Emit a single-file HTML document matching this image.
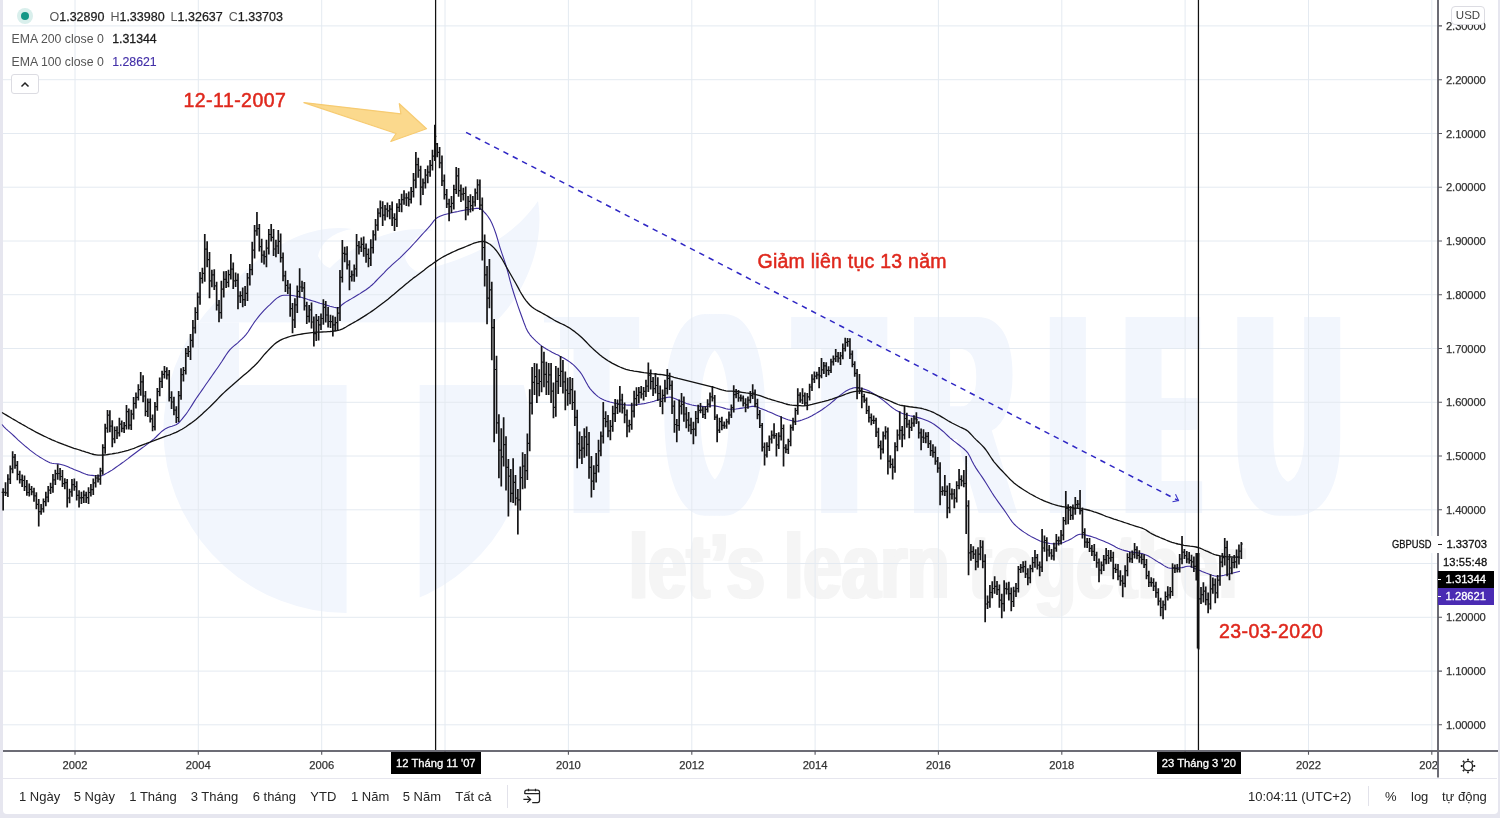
<!DOCTYPE html>
<html lang="vi"><head><meta charset="utf-8"><title>GBPUSD</title>
<style>
html,body{margin:0;padding:0}
body{width:1500px;height:818px;overflow:hidden;background:#e6e6ef;font-family:"Liberation Sans",sans-serif;position:relative;color:#222}
.panel{position:absolute;left:2.5px;top:0;width:1495.3px;height:814.2px;background:#fff;border-radius:0 0 4px 4px}
.chart{position:absolute;left:0;top:0}
.abs{position:absolute;white-space:nowrap}
.wmt{position:absolute;left:0;top:0;width:1500px;height:818px;overflow:hidden;font-weight:700;font-size:285px;line-height:285px;color:#f2f6fd}
.wmt span{position:absolute;top:271.6px;transform-origin:0 0;display:block}
.wml{position:absolute;left:628.5px;top:520.3px;font-weight:700;font-size:92px;line-height:92px;color:#f5f5f5;transform-origin:0 0;transform:scaleX(0.752);white-space:nowrap;text-shadow:2.5px 0 0 #f5f5f5,-2.5px 0 0 #f5f5f5}
.legend{font-size:12.5px;line-height:14px;color:#555}
.legend b{font-weight:400;color:#1c1c1c;-webkit-text-stroke:0.25px #1c1c1c}
.pl{position:absolute;left:1446px;width:45px;font-size:11.2px;line-height:14px;color:#333;letter-spacing:-0.1px;-webkit-text-stroke:0.25px #333}
.tl{position:absolute;top:5.5px;width:40px;text-align:center;font-size:11.2px;line-height:14px;color:#333;-webkit-text-stroke:0.25px #333}
.tb{position:absolute;top:788.6px;font-size:13px;line-height:15px;color:#262626;white-space:nowrap}
.red{position:absolute;color:#df281d;font-weight:400;white-space:nowrap;line-height:1;font-size:19.5px;letter-spacing:0.45px;-webkit-text-stroke:0.5px #df281d}
.dlab{position:absolute;top:751.5px;height:22px;background:#000;color:#fff;font-size:11.2px;line-height:22px;text-align:center;-webkit-text-stroke:0.3px #fff;white-space:nowrap}
.box{position:absolute;left:1437.6px;width:56.6px;height:17px;color:#fff;font-size:11.2px;line-height:17px;-webkit-text-stroke:0.3px #fff}
.box span{position:absolute;left:8px}
</style></head><body>
<div class="panel"></div>
<div class="wmt"><span style="left:550.7px;transform:scaleX(0.4658);text-shadow:9.1px 0 0 #f2f6fd,-9.1px 0 0 #f2f6fd,18.2px 0 0 #f2f6fd,-18.2px 0 0 #f2f6fd">T</span><span style="left:669.3px;transform:scaleX(0.4132);text-shadow:11.6px 0 0 #f2f6fd,-11.6px 0 0 #f2f6fd,23.1px 0 0 #f2f6fd,-23.1px 0 0 #f2f6fd">O</span><span style="left:798.4px;transform:scaleX(0.4737);text-shadow:8.8px 0 0 #f2f6fd,-8.8px 0 0 #f2f6fd,17.6px 0 0 #f2f6fd,-17.6px 0 0 #f2f6fd">T</span><span style="left:912.7px;transform:scaleX(0.4801);text-shadow:8.5px 0 0 #f2f6fd,-8.5px 0 0 #f2f6fd,17.1px 0 0 #f2f6fd,-17.1px 0 0 #f2f6fd">R</span><span style="left:1050.4px;transform:scaleX(0.4500);text-shadow:9.8px 0 0 #f2f6fd,-9.8px 0 0 #f2f6fd,19.6px 0 0 #f2f6fd,-19.6px 0 0 #f2f6fd">I</span><span style="left:1129.9px;transform:scaleX(0.3418);text-shadow:10.7px 0 0 #f2f6fd,-10.7px 0 0 #f2f6fd,21.5px 0 0 #f2f6fd,-21.5px 0 0 #f2f6fd,32.2px 0 0 #f2f6fd,-32.2px 0 0 #f2f6fd">E</span><span style="left:1236.0px;transform:scaleX(0.5134);text-shadow:14.6px 0 0 #f2f6fd,-14.6px 0 0 #f2f6fd">U</span></div><div class="wml">let’s learn together</div>
<svg class="chart" width="1500" height="818" viewBox="0 0 1500 818">
<g class="wm">
<path d="M198.4 322.5A183 183 0 1 0 494.6 322.5Z" fill="#f2f6fd"/>
<path d="M198.4 322.5A183 183 0 0 1 228 290C255 255 305 222 352 229C335 232 322 240 318 256C322 264 326 267 330 268C350 246 395 224 433 230C418 233 408 243 405 258C408 266 413 270 418 272C445 264 505 250 538 201C546 250 520 300 494.6 322.5Z" fill="#f2f6fd"/>
<path d="M239 322.5H560V385H239Z M346.6 384H419.7V620H346.6Z" fill="#fff"/>
</g>
<path d="M75.0 0V751M198.3 0V751M321.7 0V751M445.0 0V751M568.4 0V751M691.8 0V751M815.1 0V751M938.4 0V751M1061.8 0V751M1185.1 0V751M1308.5 0V751M1431.8 0V751M3 25.9H1438M3 79.7H1438M3 133.5H1438M3 187.2H1438M3 241.0H1438M3 294.7H1438M3 348.5H1438M3 402.3H1438M3 456.0H1438M3 509.8H1438M3 563.5H1438M3 617.3H1438M3 671.1H1438M3 724.8H1438" stroke="#e4eaf1" stroke-width="1" fill="none"/>
<path d="M2.0 424.5 L4.0 426.8 L6.0 428.8 L8.0 430.6 L10.0 432.3 L12.0 434.1 L14.0 436.0 L16.0 437.9 L18.0 439.8 L20.0 441.6 L22.0 443.4 L24.0 445.1 L26.0 446.8 L28.0 448.4 L30.0 450.1 L32.0 451.6 L34.0 453.1 L36.0 454.6 L38.0 455.9 L40.0 457.2 L42.0 458.4 L44.0 459.6 L46.0 460.8 L48.0 461.8 L50.0 462.7 L52.0 463.2 L54.0 463.5 L56.0 463.7 L58.0 463.9 L60.0 464.2 L62.0 464.7 L64.0 465.3 L66.0 466.0 L68.0 466.8 L70.0 467.7 L72.0 468.5 L74.0 469.4 L76.0 470.2 L78.0 471.0 L80.0 471.8 L82.0 472.7 L84.0 473.6 L86.0 474.3 L88.0 474.9 L90.0 475.2 L92.0 475.4 L94.0 475.6 L96.0 475.7 L98.0 475.8 L100.0 475.9 L102.0 475.6 L104.0 474.7 L106.0 473.6 L108.0 472.4 L110.0 471.3 L112.0 470.1 L114.0 468.7 L116.0 467.3 L118.0 465.9 L120.0 464.5 L122.0 463.0 L124.0 461.6 L126.0 460.1 L128.0 458.6 L130.0 457.0 L132.0 455.5 L134.0 454.0 L136.0 452.5 L138.0 451.0 L140.0 449.5 L142.0 448.0 L144.0 446.6 L146.0 445.1 L148.0 443.6 L150.0 442.1 L152.0 440.5 L154.0 438.8 L156.0 437.0 L158.0 435.0 L160.0 433.1 L162.0 431.2 L164.0 429.7 L166.0 428.4 L168.0 427.5 L170.0 426.8 L172.0 426.3 L174.0 425.6 L176.0 424.8 L178.0 423.5 L180.0 421.5 L182.0 419.2 L184.0 416.7 L186.0 414.2 L188.0 411.3 L190.0 408.2 L192.0 405.1 L194.0 401.9 L196.0 398.8 L198.0 395.9 L200.0 393.0 L202.0 390.1 L204.0 387.2 L206.0 384.3 L208.0 381.5 L210.0 378.6 L212.0 375.8 L214.0 372.9 L216.0 370.0 L218.0 367.2 L220.0 364.3 L222.0 361.3 L224.0 358.1 L226.0 355.0 L228.0 352.1 L230.0 349.6 L232.0 347.6 L234.0 345.9 L236.0 344.3 L238.0 342.6 L240.0 340.7 L242.0 338.9 L244.0 336.9 L246.0 334.6 L248.0 332.0 L250.0 328.9 L252.0 325.7 L254.0 322.7 L256.0 320.0 L258.0 317.4 L260.0 314.9 L262.0 312.6 L264.0 310.4 L266.0 308.4 L268.0 306.4 L270.0 304.6 L272.0 302.6 L274.0 300.7 L276.0 298.9 L278.0 297.4 L280.0 296.3 L282.0 295.5 L284.0 295.2 L286.0 295.2 L288.0 295.2 L290.0 295.3 L292.0 295.5 L294.0 295.8 L296.0 296.2 L298.0 296.6 L300.0 297.0 L302.0 297.5 L304.0 298.2 L306.0 298.8 L308.0 299.5 L310.0 300.1 L312.0 300.7 L314.0 301.3 L316.0 301.9 L318.0 302.6 L320.0 303.2 L322.0 303.7 L324.0 304.3 L326.0 305.0 L328.0 305.6 L330.0 306.2 L332.0 306.7 L334.0 307.2 L336.0 307.6 L338.0 307.9 L340.0 307.0 L342.0 304.7 L344.0 303.2 L346.0 301.9 L348.0 300.7 L350.0 299.6 L352.0 298.4 L354.0 297.2 L356.0 296.0 L358.0 294.8 L360.0 293.6 L362.0 292.3 L364.0 291.0 L366.0 289.7 L368.0 288.2 L370.0 286.7 L372.0 285.0 L374.0 283.1 L376.0 281.0 L378.0 278.9 L380.0 276.8 L382.0 274.8 L384.0 272.8 L386.0 270.7 L388.0 268.7 L390.0 266.8 L392.0 264.9 L394.0 263.1 L396.0 261.3 L398.0 259.6 L400.0 257.8 L402.0 255.9 L404.0 253.9 L406.0 251.9 L408.0 249.9 L410.0 247.8 L412.0 245.7 L414.0 243.5 L416.0 241.3 L418.0 239.1 L420.0 236.9 L422.0 234.7 L424.0 232.5 L426.0 230.3 L428.0 228.2 L430.0 225.9 L432.0 223.4 L434.0 220.7 L436.0 218.5 L438.0 217.2 L440.0 216.2 L442.0 215.4 L444.0 214.7 L446.0 214.2 L448.0 213.7 L450.0 213.2 L452.0 212.8 L454.0 212.3 L456.0 211.9 L458.0 211.5 L460.0 211.0 L462.0 210.6 L464.0 210.2 L466.0 209.9 L468.0 209.6 L470.0 209.3 L472.0 208.9 L474.0 208.7 L476.0 208.4 L478.0 208.3 L480.0 208.4 L482.0 209.7 L484.0 211.9 L486.0 214.0 L488.0 216.5 L490.0 219.6 L492.0 223.5 L494.0 228.4 L496.0 234.0 L498.0 240.7 L500.0 247.6 L502.0 253.6 L504.0 259.4 L506.0 265.5 L508.0 272.6 L510.0 280.3 L512.0 287.5 L514.0 294.0 L516.0 300.2 L518.0 306.1 L520.0 311.7 L522.0 317.2 L524.0 322.8 L526.0 327.9 L528.0 331.9 L530.0 334.8 L532.0 337.1 L534.0 339.2 L536.0 341.1 L538.0 342.9 L540.0 344.6 L542.0 346.1 L544.0 347.5 L546.0 348.8 L548.0 349.9 L550.0 351.1 L552.0 352.2 L554.0 353.2 L556.0 354.2 L558.0 355.1 L560.0 356.2 L562.0 357.2 L564.0 358.3 L566.0 359.5 L568.0 360.7 L570.0 362.1 L572.0 363.7 L574.0 365.4 L576.0 367.4 L578.0 369.6 L580.0 371.9 L582.0 374.7 L584.0 378.2 L586.0 382.0 L588.0 385.6 L590.0 388.6 L592.0 390.9 L594.0 393.0 L596.0 394.9 L598.0 396.6 L600.0 397.9 L602.0 399.0 L604.0 399.9 L606.0 400.7 L608.0 401.4 L610.0 402.0 L612.0 402.5 L614.0 403.0 L616.0 403.4 L618.0 403.8 L620.0 404.1 L622.0 404.4 L624.0 404.6 L626.0 404.9 L628.0 405.1 L630.0 405.1 L632.0 405.1 L634.0 405.0 L636.0 404.7 L638.0 404.5 L640.0 404.2 L642.0 403.9 L644.0 403.6 L646.0 403.2 L648.0 402.7 L650.0 402.3 L652.0 401.8 L654.0 401.2 L656.0 400.5 L658.0 399.9 L660.0 399.3 L662.0 398.7 L664.0 398.1 L666.0 397.6 L668.0 397.2 L670.0 397.1 L672.0 397.5 L674.0 398.2 L676.0 399.1 L678.0 400.0 L680.0 400.9 L682.0 401.6 L684.0 402.4 L686.0 403.2 L688.0 403.9 L690.0 404.5 L692.0 405.0 L694.0 405.4 L696.0 405.7 L698.0 406.0 L700.0 406.3 L702.0 406.4 L704.0 406.5 L706.0 406.5 L708.0 406.2 L710.0 406.0 L712.0 405.8 L714.0 405.8 L716.0 406.1 L718.0 406.5 L720.0 407.0 L722.0 407.5 L724.0 408.1 L726.0 408.7 L728.0 409.1 L730.0 409.2 L732.0 409.2 L734.0 409.2 L736.0 409.0 L738.0 408.7 L740.0 408.4 L742.0 408.1 L744.0 407.8 L746.0 407.5 L748.0 407.1 L750.0 406.7 L752.0 406.4 L754.0 406.2 L756.0 406.6 L758.0 407.3 L760.0 408.2 L762.0 408.9 L764.0 409.7 L766.0 410.5 L768.0 411.4 L770.0 412.2 L772.0 413.1 L774.0 414.0 L776.0 414.9 L778.0 415.8 L780.0 416.6 L782.0 417.4 L784.0 418.2 L786.0 419.0 L788.0 419.7 L790.0 420.2 L792.0 420.7 L794.0 421.1 L796.0 421.3 L798.0 421.1 L800.0 420.6 L802.0 420.0 L804.0 419.3 L806.0 418.6 L808.0 417.7 L810.0 416.7 L812.0 415.7 L814.0 414.5 L816.0 413.4 L818.0 412.2 L820.0 411.0 L822.0 409.7 L824.0 408.3 L826.0 406.9 L828.0 405.4 L830.0 403.9 L832.0 402.2 L834.0 400.5 L836.0 398.7 L838.0 397.0 L840.0 395.4 L842.0 393.9 L844.0 392.4 L846.0 391.0 L848.0 389.9 L850.0 389.1 L852.0 388.4 L854.0 387.8 L856.0 387.6 L858.0 387.7 L860.0 388.0 L862.0 388.5 L864.0 389.1 L866.0 389.7 L868.0 390.6 L870.0 391.6 L872.0 392.8 L874.0 394.0 L876.0 395.2 L878.0 396.5 L880.0 397.9 L882.0 399.4 L884.0 400.9 L886.0 402.5 L888.0 404.1 L890.0 405.9 L892.0 407.5 L894.0 408.9 L896.0 410.2 L898.0 411.3 L900.0 412.4 L902.0 413.3 L904.0 414.1 L906.0 414.7 L908.0 415.2 L910.0 415.7 L912.0 416.1 L914.0 416.6 L916.0 417.1 L918.0 417.6 L920.0 418.1 L922.0 418.7 L924.0 419.4 L926.0 420.2 L928.0 421.0 L930.0 422.0 L932.0 423.1 L934.0 424.3 L936.0 425.8 L938.0 427.3 L940.0 428.8 L942.0 430.5 L944.0 432.2 L946.0 434.1 L948.0 436.0 L950.0 437.8 L952.0 439.5 L954.0 441.1 L956.0 442.6 L958.0 444.2 L960.0 445.8 L962.0 447.4 L964.0 449.0 L966.0 450.8 L968.0 453.2 L970.0 456.8 L972.0 461.0 L974.0 464.8 L976.0 468.1 L978.0 471.1 L980.0 474.0 L982.0 476.9 L984.0 479.9 L986.0 483.0 L988.0 486.3 L990.0 489.5 L992.0 492.8 L994.0 495.9 L996.0 498.8 L998.0 501.6 L1000.0 504.4 L1002.0 507.1 L1004.0 509.9 L1006.0 512.8 L1008.0 515.8 L1010.0 518.8 L1012.0 521.6 L1014.0 524.0 L1016.0 525.9 L1018.0 527.6 L1020.0 529.2 L1022.0 530.7 L1024.0 532.1 L1026.0 533.4 L1028.0 534.7 L1030.0 535.9 L1032.0 537.1 L1034.0 538.1 L1036.0 539.1 L1038.0 540.0 L1040.0 540.9 L1042.0 541.6 L1044.0 542.2 L1046.0 542.7 L1048.0 543.1 L1050.0 543.5 L1052.0 543.7 L1054.0 543.9 L1056.0 543.8 L1058.0 543.6 L1060.0 543.3 L1062.0 542.9 L1064.0 542.2 L1066.0 541.3 L1068.0 540.4 L1070.0 539.4 L1072.0 538.4 L1074.0 537.1 L1076.0 535.8 L1078.0 534.8 L1080.0 534.3 L1082.0 534.3 L1084.0 534.6 L1086.0 535.1 L1088.0 535.6 L1090.0 536.1 L1092.0 536.7 L1094.0 537.4 L1096.0 538.1 L1098.0 538.9 L1100.0 539.7 L1102.0 540.5 L1104.0 541.3 L1106.0 542.2 L1108.0 543.1 L1110.0 544.0 L1112.0 545.0 L1114.0 546.1 L1116.0 547.2 L1118.0 548.2 L1120.0 549.1 L1122.0 549.8 L1124.0 550.4 L1126.0 550.9 L1128.0 551.4 L1130.0 551.8 L1132.0 552.1 L1134.0 552.4 L1136.0 552.6 L1138.0 552.9 L1140.0 553.2 L1142.0 553.6 L1144.0 554.2 L1146.0 554.9 L1148.0 555.8 L1150.0 556.9 L1152.0 558.1 L1154.0 559.4 L1156.0 560.7 L1158.0 561.9 L1160.0 563.0 L1162.0 564.3 L1164.0 565.6 L1166.0 566.8 L1168.0 567.7 L1170.0 568.2 L1172.0 568.2 L1174.0 568.1 L1176.0 568.0 L1178.0 567.9 L1180.0 567.8 L1182.0 567.6 L1184.0 567.1 L1186.0 566.5 L1188.0 566.2 L1190.0 566.3 L1192.0 567.0 L1194.0 568.0 L1196.0 568.9 L1198.0 569.7 L1200.0 570.5 L1202.0 571.4 L1204.0 572.2 L1206.0 573.0 L1208.0 573.7 L1210.0 574.5 L1212.0 575.2 L1214.0 575.8 L1216.0 576.2 L1218.0 576.2 L1220.0 575.9 L1222.0 575.6 L1224.0 575.2 L1226.0 574.7 L1228.0 574.3 L1230.0 573.8 L1232.0 573.3 L1234.0 572.8 L1236.0 572.3 L1238.0 571.8 L1240.0 571.3" stroke="#3f2f9e" stroke-width="1.1" fill="none" stroke-linejoin="round"/>
<path d="M2.0 412.5 L4.0 413.7 L6.0 414.9 L8.0 416.1 L10.0 417.3 L12.0 418.5 L14.0 419.6 L16.0 420.8 L18.0 422.0 L20.0 423.1 L22.0 424.3 L24.0 425.4 L26.0 426.5 L28.0 427.7 L30.0 428.8 L32.0 429.9 L34.0 431.0 L36.0 432.1 L38.0 433.1 L40.0 434.1 L42.0 435.1 L44.0 436.1 L46.0 437.0 L48.0 438.0 L50.0 438.9 L52.0 439.8 L54.0 440.6 L56.0 441.5 L58.0 442.3 L60.0 443.1 L62.0 443.9 L64.0 444.7 L66.0 445.4 L68.0 446.2 L70.0 446.9 L72.0 447.6 L74.0 448.3 L76.0 448.9 L78.0 449.5 L80.0 450.1 L82.0 450.8 L84.0 451.4 L86.0 452.1 L88.0 452.7 L90.0 453.4 L92.0 454.0 L94.0 454.5 L96.0 454.8 L98.0 455.1 L100.0 455.2 L102.0 455.2 L104.0 455.0 L106.0 454.8 L108.0 454.5 L110.0 454.2 L112.0 453.9 L114.0 453.5 L116.0 453.2 L118.0 452.8 L120.0 452.3 L122.0 451.9 L124.0 451.4 L126.0 450.8 L128.0 450.3 L130.0 449.7 L132.0 449.0 L134.0 448.3 L136.0 447.5 L138.0 446.7 L140.0 445.9 L142.0 445.1 L144.0 444.3 L146.0 443.6 L148.0 442.8 L150.0 442.1 L152.0 441.3 L154.0 440.6 L156.0 439.8 L158.0 439.1 L160.0 438.3 L162.0 437.6 L164.0 436.9 L166.0 436.2 L168.0 435.5 L170.0 434.8 L172.0 434.0 L174.0 433.2 L176.0 432.4 L178.0 431.4 L180.0 430.3 L182.0 429.2 L184.0 428.0 L186.0 426.7 L188.0 425.3 L190.0 423.9 L192.0 422.5 L194.0 421.0 L196.0 419.4 L198.0 417.7 L200.0 416.0 L202.0 414.2 L204.0 412.3 L206.0 410.5 L208.0 408.6 L210.0 406.7 L212.0 404.7 L214.0 402.7 L216.0 400.7 L218.0 398.6 L220.0 396.5 L222.0 394.5 L224.0 392.6 L226.0 390.7 L228.0 388.9 L230.0 387.2 L232.0 385.5 L234.0 383.7 L236.0 382.0 L238.0 380.3 L240.0 378.6 L242.0 376.8 L244.0 375.1 L246.0 373.4 L248.0 371.7 L250.0 369.9 L252.0 368.1 L254.0 366.3 L256.0 364.3 L258.0 362.2 L260.0 359.8 L262.0 357.3 L264.0 354.9 L266.0 352.7 L268.0 350.6 L270.0 348.5 L272.0 346.5 L274.0 344.6 L276.0 342.9 L278.0 341.6 L280.0 340.4 L282.0 339.4 L284.0 338.5 L286.0 337.8 L288.0 337.1 L290.0 336.5 L292.0 335.9 L294.0 335.5 L296.0 335.1 L298.0 334.7 L300.0 334.3 L302.0 334.0 L304.0 333.7 L306.0 333.4 L308.0 333.1 L310.0 332.8 L312.0 332.6 L314.0 332.4 L316.0 332.2 L318.0 332.1 L320.0 332.1 L322.0 332.0 L324.0 331.9 L326.0 331.8 L328.0 331.6 L330.0 331.5 L332.0 331.3 L334.0 331.0 L336.0 330.8 L338.0 330.4 L340.0 329.9 L342.0 329.2 L344.0 328.1 L346.0 327.0 L348.0 325.8 L350.0 324.6 L352.0 323.5 L354.0 322.4 L356.0 321.3 L358.0 320.1 L360.0 318.9 L362.0 317.6 L364.0 316.4 L366.0 315.1 L368.0 313.8 L370.0 312.5 L372.0 311.1 L374.0 309.7 L376.0 308.3 L378.0 306.8 L380.0 305.3 L382.0 303.8 L384.0 302.3 L386.0 300.7 L388.0 299.2 L390.0 297.5 L392.0 295.8 L394.0 294.2 L396.0 292.5 L398.0 290.8 L400.0 289.1 L402.0 287.4 L404.0 285.7 L406.0 284.0 L408.0 282.4 L410.0 280.7 L412.0 279.2 L414.0 277.6 L416.0 276.2 L418.0 274.7 L420.0 273.2 L422.0 271.7 L424.0 270.2 L426.0 268.6 L428.0 267.1 L430.0 265.6 L432.0 264.2 L434.0 262.7 L436.0 261.4 L438.0 260.0 L440.0 258.7 L442.0 257.5 L444.0 256.4 L446.0 255.4 L448.0 254.3 L450.0 253.4 L452.0 252.4 L454.0 251.5 L456.0 250.6 L458.0 249.7 L460.0 248.9 L462.0 248.1 L464.0 247.3 L466.0 246.5 L468.0 245.7 L470.0 244.8 L472.0 244.0 L474.0 243.2 L476.0 242.6 L478.0 242.0 L480.0 241.6 L482.0 241.4 L484.0 241.5 L486.0 242.2 L488.0 243.2 L490.0 244.3 L492.0 246.0 L494.0 247.9 L496.0 250.2 L498.0 252.9 L500.0 255.8 L502.0 259.0 L504.0 262.5 L506.0 266.2 L508.0 269.8 L510.0 273.3 L512.0 276.8 L514.0 280.3 L516.0 283.8 L518.0 287.4 L520.0 291.2 L522.0 294.7 L524.0 297.9 L526.0 300.6 L528.0 303.0 L530.0 305.2 L532.0 307.0 L534.0 308.5 L536.0 309.8 L538.0 310.9 L540.0 311.9 L542.0 313.0 L544.0 314.1 L546.0 315.2 L548.0 316.4 L550.0 317.6 L552.0 318.8 L554.0 320.0 L556.0 321.1 L558.0 322.1 L560.0 323.1 L562.0 324.0 L564.0 324.9 L566.0 326.0 L568.0 327.1 L570.0 328.3 L572.0 329.7 L574.0 331.1 L576.0 332.7 L578.0 334.3 L580.0 336.0 L582.0 337.8 L584.0 339.7 L586.0 341.8 L588.0 343.9 L590.0 346.0 L592.0 347.9 L594.0 349.8 L596.0 351.6 L598.0 353.3 L600.0 355.0 L602.0 356.6 L604.0 358.0 L606.0 359.4 L608.0 360.7 L610.0 361.9 L612.0 363.1 L614.0 364.1 L616.0 365.1 L618.0 366.1 L620.0 367.0 L622.0 367.8 L624.0 368.6 L626.0 369.3 L628.0 369.8 L630.0 370.3 L632.0 370.7 L634.0 371.1 L636.0 371.4 L638.0 371.7 L640.0 372.0 L642.0 372.3 L644.0 372.6 L646.0 372.8 L648.0 373.1 L650.0 373.3 L652.0 373.6 L654.0 373.8 L656.0 374.0 L658.0 374.3 L660.0 374.5 L662.0 374.7 L664.0 375.0 L666.0 375.3 L668.0 375.7 L670.0 376.2 L672.0 376.7 L674.0 377.3 L676.0 377.8 L678.0 378.4 L680.0 378.9 L682.0 379.4 L684.0 379.9 L686.0 380.4 L688.0 380.9 L690.0 381.4 L692.0 381.9 L694.0 382.4 L696.0 382.9 L698.0 383.4 L700.0 383.9 L702.0 384.4 L704.0 384.9 L706.0 385.4 L708.0 385.9 L710.0 386.4 L712.0 386.9 L714.0 387.4 L716.0 388.0 L718.0 388.7 L720.0 389.3 L722.0 389.9 L724.0 390.4 L726.0 390.8 L728.0 391.1 L730.0 391.1 L732.0 391.2 L734.0 391.3 L736.0 391.5 L738.0 391.7 L740.0 392.0 L742.0 392.3 L744.0 392.6 L746.0 392.9 L748.0 393.1 L750.0 393.5 L752.0 393.8 L754.0 394.2 L756.0 394.6 L758.0 395.1 L760.0 395.7 L762.0 396.4 L764.0 397.2 L766.0 397.9 L768.0 398.6 L770.0 399.2 L772.0 399.8 L774.0 400.4 L776.0 401.0 L778.0 401.6 L780.0 402.2 L782.0 402.7 L784.0 403.4 L786.0 404.0 L788.0 404.5 L790.0 404.9 L792.0 405.2 L794.0 405.4 L796.0 405.5 L798.0 405.6 L800.0 405.7 L802.0 405.8 L804.0 405.8 L806.0 405.7 L808.0 405.4 L810.0 404.9 L812.0 404.4 L814.0 403.8 L816.0 403.3 L818.0 402.8 L820.0 402.3 L822.0 401.9 L824.0 401.4 L826.0 400.8 L828.0 400.3 L830.0 399.7 L832.0 399.1 L834.0 398.4 L836.0 397.7 L838.0 397.0 L840.0 396.3 L842.0 395.6 L844.0 394.8 L846.0 394.0 L848.0 393.3 L850.0 392.7 L852.0 392.2 L854.0 391.7 L856.0 391.4 L858.0 391.2 L860.0 391.2 L862.0 391.4 L864.0 391.7 L866.0 392.1 L868.0 392.5 L870.0 393.0 L872.0 393.6 L874.0 394.4 L876.0 395.2 L878.0 396.0 L880.0 396.8 L882.0 397.6 L884.0 398.5 L886.0 399.3 L888.0 400.2 L890.0 401.0 L892.0 401.9 L894.0 402.8 L896.0 403.7 L898.0 404.5 L900.0 405.1 L902.0 405.5 L904.0 405.9 L906.0 406.2 L908.0 406.5 L910.0 406.8 L912.0 407.0 L914.0 407.3 L916.0 407.5 L918.0 407.8 L920.0 408.1 L922.0 408.5 L924.0 409.1 L926.0 409.6 L928.0 410.3 L930.0 411.0 L932.0 411.8 L934.0 412.7 L936.0 413.8 L938.0 414.8 L940.0 415.9 L942.0 417.1 L944.0 418.3 L946.0 419.5 L948.0 420.8 L950.0 421.9 L952.0 423.0 L954.0 424.0 L956.0 425.0 L958.0 426.0 L960.0 427.0 L962.0 427.9 L964.0 428.8 L966.0 429.9 L968.0 431.3 L970.0 433.3 L972.0 435.4 L974.0 437.6 L976.0 439.6 L978.0 441.5 L980.0 443.4 L982.0 445.4 L984.0 447.5 L986.0 450.0 L988.0 452.9 L990.0 456.0 L992.0 459.0 L994.0 461.8 L996.0 464.2 L998.0 466.5 L1000.0 468.7 L1002.0 470.8 L1004.0 472.9 L1006.0 475.0 L1008.0 477.1 L1010.0 479.2 L1012.0 481.1 L1014.0 482.9 L1016.0 484.5 L1018.0 486.0 L1020.0 487.4 L1022.0 488.7 L1024.0 490.0 L1026.0 491.2 L1028.0 492.5 L1030.0 493.7 L1032.0 494.8 L1034.0 495.9 L1036.0 497.0 L1038.0 498.0 L1040.0 499.0 L1042.0 499.9 L1044.0 500.8 L1046.0 501.7 L1048.0 502.4 L1050.0 503.2 L1052.0 503.9 L1054.0 504.5 L1056.0 505.1 L1058.0 505.7 L1060.0 506.1 L1062.0 506.5 L1064.0 506.8 L1066.0 507.0 L1068.0 507.3 L1070.0 507.5 L1072.0 507.7 L1074.0 508.0 L1076.0 508.2 L1078.0 508.4 L1080.0 508.6 L1082.0 508.8 L1084.0 509.1 L1086.0 509.5 L1088.0 510.0 L1090.0 510.5 L1092.0 511.1 L1094.0 511.8 L1096.0 512.4 L1098.0 513.1 L1100.0 513.9 L1102.0 514.7 L1104.0 515.5 L1106.0 516.3 L1108.0 517.0 L1110.0 517.7 L1112.0 518.4 L1114.0 519.1 L1116.0 519.7 L1118.0 520.4 L1120.0 521.0 L1122.0 521.7 L1124.0 522.4 L1126.0 523.0 L1128.0 523.7 L1130.0 524.4 L1132.0 525.0 L1134.0 525.7 L1136.0 526.3 L1138.0 526.9 L1140.0 527.5 L1142.0 528.2 L1144.0 529.0 L1146.0 530.0 L1148.0 531.4 L1150.0 532.8 L1152.0 533.9 L1154.0 534.8 L1156.0 535.8 L1158.0 536.6 L1160.0 537.5 L1162.0 538.3 L1164.0 539.1 L1166.0 540.0 L1168.0 540.8 L1170.0 541.6 L1172.0 542.3 L1174.0 542.9 L1176.0 543.5 L1178.0 544.0 L1180.0 544.4 L1182.0 544.9 L1184.0 545.3 L1186.0 545.6 L1188.0 545.9 L1190.0 546.2 L1192.0 546.4 L1194.0 546.7 L1196.0 547.0 L1198.0 547.5 L1200.0 548.2 L1202.0 549.0 L1204.0 550.0 L1206.0 550.9 L1208.0 551.7 L1210.0 552.6 L1212.0 553.5 L1214.0 554.3 L1216.0 555.0 L1218.0 555.4 L1220.0 555.9 L1222.0 556.2 L1224.0 556.5 L1226.0 556.7 L1228.0 556.8 L1230.0 556.9 L1232.0 557.0 L1234.0 557.1 L1236.0 557.1 L1238.0 557.1 L1240.0 557.1" stroke="#111" stroke-width="1.3" fill="none" stroke-linejoin="round"/>
<path d="M3.15 488.3V510.4M5.52 482.3V496.1M7.89 474.2V497.1M10.27 465.6V483.9M12.64 451.2V473.3M15.01 453.9V468.8M17.38 461.0V480.2M19.75 470.8V483.4M22.13 474.4V486.9M24.50 475.5V490.9M26.87 480.1V495.7M29.24 483.4V496.5M31.61 485.9V495.3M33.99 487.8V501.7M36.36 492.2V509.3M38.73 499.0V526.4M41.10 504.0V514.8M43.47 498.5V512.6M45.85 491.8V506.2M48.22 486.0V502.2M50.59 482.7V494.1M52.96 474.1V492.8M55.33 469.8V484.9M57.71 464.2V479.7M60.08 467.9V480.5M62.45 470.0V487.1M64.82 478.2V489.3M67.19 479.1V507.4M69.57 488.7V503.3M71.94 479.0V496.8M74.31 478.6V490.8M76.68 481.2V500.4M79.05 490.3V507.4M81.43 491.7V504.1M83.80 490.4V503.0M86.17 491.8V503.1M88.54 487.2V504.1M90.91 483.9V496.5M93.29 478.6V495.1M95.66 474.9V487.5M98.03 474.4V482.5M100.40 467.7V484.8M102.77 444.2V474.8M105.15 423.8V453.7M107.52 410.1V432.7M109.89 410.3V432.3M112.26 420.3V447.2M114.63 426.5V443.2M117.01 426.2V439.0M119.38 417.7V436.5M121.75 420.5V432.2M124.12 421.9V433.1M126.49 405.1V429.6M128.87 408.6V429.6M131.24 409.8V430.1M133.61 396.9V419.5M135.98 392.6V408.4M138.35 384.2V400.6M140.73 372.0V395.8M143.10 375.3V402.3M145.47 391.1V416.3M147.84 398.4V417.1M150.21 398.6V422.6M152.59 414.6V431.2M154.96 402.0V430.4M157.33 388.0V410.7M159.70 377.6V396.3M162.07 370.8V388.1M164.45 366.0V378.4M166.82 367.3V379.6M169.19 370.1V401.6M171.56 391.2V408.9M173.93 396.8V415.3M176.31 406.3V423.1M178.68 391.0V422.0M181.05 368.2V399.7M183.42 366.9V381.4M185.79 348.1V374.5M188.17 346.1V357.1M190.54 334.1V360.0M192.91 320.0V347.6M195.28 307.3V333.5M197.65 292.5V319.9M200.03 272.0V304.7M202.40 267.8V283.4M204.77 234.1V281.7M207.14 241.2V267.3M209.51 252.0V298.3M211.89 269.8V287.2M214.26 269.3V290.0M216.63 281.7V310.4M219.00 300.0V322.3M221.37 280.8V318.7M223.75 271.2V297.5M226.12 271.1V287.9M228.49 269.7V287.3M230.86 254.1V279.6M233.23 262.4V288.9M235.61 272.5V287.0M237.98 273.4V309.3M240.35 291.3V302.9M242.72 287.6V307.2M245.09 286.0V305.9M247.47 273.0V300.9M249.84 264.1V285.4M252.21 241.8V275.3M254.58 225.1V258.4M256.95 212.0V235.7M259.33 224.0V251.4M261.70 238.7V262.7M264.07 250.4V264.4M266.44 239.8V267.2M268.81 228.9V254.6M271.19 224.1V241.4M273.56 229.0V255.9M275.93 239.7V257.2M278.30 230.1V254.0M280.67 233.6V262.6M283.05 252.5V281.2M285.42 270.8V291.9M287.79 280.1V293.9M290.16 283.4V316.8M292.53 303.1V333.3M294.91 298.3V327.9M297.28 285.5V313.0M299.65 268.2V297.8M302.02 280.7V292.0M304.39 281.9V310.6M306.77 301.8V323.9M309.14 305.0V322.4M311.51 302.5V328.5M313.88 316.5V346.4M316.25 313.9V341.1M318.63 316.0V340.4M321.00 313.4V330.1M323.37 299.3V324.8M325.74 300.9V322.4M328.11 306.9V327.5M330.49 314.7V328.0M332.86 315.4V336.4M335.23 316.7V331.2M337.60 307.0V331.0M339.97 270.1V321.1M342.35 240.1V282.5M344.72 246.7V262.3M347.09 246.3V269.4M349.46 260.2V290.2M351.83 270.5V281.6M354.21 264.5V281.8M356.58 234.1V276.8M358.95 241.0V254.5M361.32 237.4V251.9M363.69 236.4V256.8M366.07 243.4V262.7M368.44 248.6V267.2M370.81 239.2V266.0M373.18 230.2V253.6M375.55 218.9V240.5M377.93 208.2V230.7M380.30 200.6V217.2M382.67 201.3V226.1M385.04 205.1V220.6M387.41 202.4V217.2M389.79 204.9V219.3M392.16 201.6V226.1M394.53 213.3V231.1M396.90 203.3V226.9M399.27 198.9V212.0M401.65 193.7V212.3M404.02 190.3V204.7M406.39 193.3V206.1M408.76 191.4V206.5M411.13 187.1V203.6M413.51 173.0V197.4M415.88 152.1V188.3M418.25 157.8V177.7M420.62 165.7V205.2M422.99 178.5V195.1M425.37 169.1V188.4M427.74 165.6V183.3M430.11 160.1V176.7M432.48 149.8V170.4M434.85 125.0V160.9M437.23 143.1V157.3M439.60 147.0V168.2M441.97 155.4V186.1M444.34 174.6V199.4M446.71 189.1V207.9M449.09 198.7V221.3M451.46 196.0V213.1M453.83 184.7V209.5M456.20 167.1V194.0M458.57 168.1V196.7M460.95 184.5V202.0M463.32 187.7V200.5M465.69 186.4V220.3M468.06 195.9V215.4M470.43 194.3V212.5M472.81 196.1V211.2M475.18 188.6V206.6M477.55 179.2V200.1M479.92 179.6V209.9M482.29 197.6V260.4M484.67 234.4V286.6M487.04 265.9V324.2M489.41 259.1V308.3M491.78 281.8V360.3M494.15 318.9V442.2M496.53 355.7V433.8M498.90 414.2V478.3M501.27 428.2V486.4M503.64 417.2V466.6M506.01 436.2V490.4M508.39 458.9V516.4M510.76 469.1V502.2M513.13 458.3V503.1M515.50 475.1V505.4M517.87 489.1V534.5M520.25 466.5V510.5M522.62 452.3V489.2M524.99 454.1V488.4M527.36 433.5V479.9M529.73 389.2V451.3M532.11 367.0V414.6M534.48 363.0V395.1M536.85 363.5V403.1M539.22 369.3V396.2M541.59 346.0V392.2M543.97 351.7V387.2M546.34 361.7V395.1M548.71 363.0V395.1M551.08 363.0V403.1M553.45 382.6V418.2M555.83 366.0V416.8M558.20 367.8V394.1M560.57 356.0V386.9M562.94 360.0V393.6M565.31 371.4V410.2M567.69 377.7V405.8M570.06 377.1V404.3M572.43 378.0V410.0M574.80 390.4V426.1M577.17 409.8V468.3M579.55 431.6V458.7M581.92 435.9V464.1M584.29 428.2V457.8M586.66 426.5V456.2M589.03 432.0V478.7M591.41 455.9V497.4M593.78 465.3V490.0M596.15 453.1V482.4M598.52 439.8V472.4M600.89 431.4V456.3M603.27 402.1V443.4M605.64 411.3V427.3M608.01 415.1V437.2M610.38 420.1V440.2M612.75 405.7V431.7M615.13 399.1V422.0M617.50 399.6V413.9M619.87 386.1V412.6M622.24 393.7V413.6M624.61 402.6V423.2M626.99 409.6V437.2M629.36 419.7V432.4M631.73 402.8V429.8M634.10 390.8V417.6M636.47 387.3V405.9M638.85 386.9V403.5M641.22 385.9V398.6M643.59 386.9V400.4M645.96 379.8V397.1M648.33 362.4V391.9M650.71 369.5V389.4M653.08 377.0V396.1M655.45 373.1V393.6M657.82 377.2V400.9M660.19 385.4V407.0M662.57 389.4V414.2M664.94 379.8V402.2M667.31 369.0V394.5M669.68 372.7V390.0M672.05 380.4V414.0M674.43 400.5V432.8M676.80 419.0V442.2M679.17 399.5V430.8M681.54 393.1V414.4M683.91 396.5V421.7M686.29 407.0V428.3M688.66 411.9V431.8M691.03 417.7V434.2M693.40 421.8V444.2M695.77 410.9V436.3M698.15 404.7V423.2M700.52 403.1V413.2M702.89 406.5V417.9M705.26 406.2V418.9M707.63 399.3V412.6M710.01 392.6V407.5M712.38 386.1V401.5M714.75 395.1V420.1M717.12 414.2V442.2M719.49 417.8V433.1M721.87 416.8V430.2M724.24 421.6V428.8M726.61 418.8V428.7M728.98 411.6V424.5M731.35 404.6V418.1M733.73 385.2V412.4M736.10 389.1V398.2M738.47 390.0V401.7M740.84 394.4V401.6M743.21 395.6V406.4M745.59 398.3V412.2M747.96 396.4V408.8M750.33 391.1V403.2M752.70 384.2V398.9M755.07 389.6V407.2M757.45 398.7V419.3M759.82 410.0V428.1M762.19 422.9V451.5M764.56 442.5V465.4M766.93 442.3V457.5M769.31 435.5V451.1M771.68 430.6V443.6M774.05 423.3V438.8M776.42 432.9V456.4M778.79 432.3V449.0M781.17 416.3V440.5M783.54 424.4V466.4M785.91 444.3V453.3M788.28 438.8V453.9M790.65 424.5V446.2M793.03 417.7V430.8M795.40 407.7V425.0M797.77 388.2V414.7M800.14 392.3V402.7M802.51 388.2V403.9M804.89 392.4V405.9M807.26 392.9V410.2M809.63 383.7V400.5M812.00 374.3V391.1M814.37 371.4V382.9M816.75 371.8V379.2M819.12 367.1V388.2M821.49 358.1V378.3M823.86 362.0V374.0M826.23 362.2V377.1M828.61 366.2V375.3M830.98 358.8V373.0M833.35 355.5V365.4M835.72 349.1V361.9M838.09 351.9V362.5M840.47 352.1V365.1M842.84 343.6V359.2M845.21 337.8V351.6M847.58 338.0V346.8M849.95 338.3V359.1M852.33 350.5V367.2M854.70 361.2V376.8M857.07 369.1V399.2M859.44 374.1V393.9M861.81 387.4V408.2M864.19 393.8V402.8M866.56 397.6V414.1M868.93 405.8V422.4M871.30 413.4V425.3M873.67 415.4V424.0M876.05 417.7V436.9M878.42 427.7V448.3M880.79 440.5V459.4M883.16 431.5V453.5M885.53 426.3V439.4M887.91 427.6V474.4M890.28 455.2V468.2M892.65 458.4V479.4M895.02 442.3V472.7M897.39 429.4V451.2M899.77 411.2V439.7M902.14 426.0V447.3M904.51 405.2V439.4M906.88 412.8V427.8M909.25 419.7V438.3M911.63 417.7V431.0M914.00 415.2V426.7M916.37 412.2V424.0M918.74 421.3V438.6M921.11 428.5V450.3M923.49 429.3V443.0M925.86 432.2V443.3M928.23 432.1V447.9M930.60 440.2V456.0M932.97 444.3V457.5M935.35 446.6V464.7M937.72 457.1V472.8M940.09 462.2V505.2M942.46 486.3V495.6M944.83 475.1V496.1M947.21 485.6V518.2M949.58 483.1V513.3M951.95 488.4V499.5M954.32 488.9V508.2M956.69 481.3V502.5M959.07 469.1V489.2M961.44 475.3V486.2M963.81 470.1V487.2M966.18 455.9V534.1M968.55 500.2V575.2M970.93 544.1V560.8M973.30 546.2V558.9M975.67 549.2V570.2M978.04 547.2V567.7M980.41 540.1V560.2M982.79 540.6V568.2M985.16 554.3V622.3M987.53 595.4V608.9M989.90 585.0V607.8M992.27 581.2V598.3M994.65 576.2V593.7M997.02 581.0V594.9M999.39 584.5V607.8M1001.76 593.7V618.3M1004.13 580.2V611.6M1006.51 582.5V594.4M1008.88 581.8V600.4M1011.25 587.6V611.3M1013.62 586.7V607.0M1015.99 583.0V597.0M1018.37 566.0V592.5M1020.74 564.1V573.0M1023.11 561.2V572.5M1025.48 560.8V578.1M1027.85 568.2V585.2M1030.23 564.8V583.2M1032.60 556.9V572.2M1034.97 550.1V567.7M1037.34 553.9V569.4M1039.71 561.5V576.2M1042.09 529.1V572.1M1044.46 535.5V551.8M1046.83 537.3V561.2M1049.20 544.9V556.7M1051.57 548.9V559.7M1053.95 542.8V560.6M1056.32 534.1V551.7M1058.69 536.4V545.6M1061.06 530.1V544.4M1063.43 517.1V540.2M1065.81 491.1V524.7M1068.18 504.3V524.2M1070.55 505.9V520.1M1072.92 504.6V519.7M1075.29 497.1V514.8M1077.67 499.9V508.4M1080.04 490.1V514.4M1082.41 507.4V538.4M1084.78 528.3V547.7M1087.15 537.9V548.1M1089.53 537.9V552.0M1091.90 545.1V556.0M1094.27 544.1V560.9M1096.64 551.7V567.8M1099.01 558.6V582.2M1101.39 561.6V574.2M1103.76 555.0V571.0M1106.13 548.1V564.2M1108.50 550.0V564.1M1110.87 550.1V561.7M1113.25 551.7V579.2M1115.62 563.7V573.1M1117.99 563.9V580.3M1120.36 570.3V585.7M1122.73 575.3V597.3M1125.11 565.2V587.2M1127.48 553.2V576.2M1129.85 552.0V562.5M1132.22 550.4V563.1M1134.59 543.1V558.5M1136.97 546.2V559.3M1139.34 550.2V562.8M1141.71 553.8V564.3M1144.08 554.2V567.9M1146.45 559.0V579.3M1148.83 570.8V587.0M1151.20 577.3V586.7M1153.57 578.3V591.0M1155.94 581.7V597.8M1158.31 588.3V605.5M1160.69 597.8V616.3M1163.06 600.4V619.3M1165.43 591.4V610.3M1167.80 586.2V600.4M1170.17 587.1V598.5M1172.55 563.2V596.0M1174.92 564.4V573.0M1177.29 564.0V572.5M1179.66 554.0V572.6M1182.03 536.1V564.3M1184.41 549.1V558.9M1186.78 551.0V563.3M1189.15 552.1V563.8M1191.52 554.7V567.8M1193.89 556.6V571.9M1196.27 553.1V580.6M1198.64 553.1V649.4M1201.01 587.0V604.0M1203.38 582.2V602.5M1205.75 586.4V605.3M1208.13 592.5V613.3M1210.50 574.2V609.4M1212.87 577.5V593.8M1215.24 578.6V603.3M1217.61 574.9V598.2M1219.99 555.8V585.8M1222.36 553.0V567.2M1224.73 538.1V565.4M1227.10 540.8V576.2M1229.47 554.1V580.2M1231.85 557.6V574.3M1234.22 555.0V568.2M1236.59 549.4V568.2M1238.96 544.6V564.6M1241.33 542.1V559.1" stroke="#141416" stroke-width="1.7" fill="none"/>
<path d="M1.65 492.4h1.5M3.15 492.4h1.5M4.02 492.4h1.5M5.52 492.8h1.5M6.39 492.8h1.5M7.89 479.1h1.5M8.77 479.1h1.5M10.27 468.8h1.5M11.14 468.8h1.5M12.64 457.2h1.5M13.51 457.2h1.5M15.01 465.4h1.5M15.88 465.4h1.5M17.38 474.3h1.5M18.25 474.3h1.5M19.75 479.6h1.5M20.63 479.6h1.5M22.13 480.5h1.5M23.00 480.5h1.5M24.50 486.6h1.5M25.37 486.6h1.5M26.87 492.5h1.5M27.74 492.5h1.5M29.24 489.4h1.5M30.11 489.4h1.5M31.61 491.9h1.5M32.49 491.9h1.5M33.99 495.9h1.5M34.86 495.9h1.5M36.36 504.3h1.5M37.23 504.3h1.5M38.73 511.6h1.5M39.60 511.6h1.5M41.10 508.9h1.5M41.97 508.9h1.5M43.47 501.7h1.5M44.35 501.7h1.5M45.85 497.2h1.5M46.72 497.2h1.5M48.22 490.1h1.5M49.09 490.1h1.5M50.59 487.3h1.5M51.46 487.3h1.5M52.96 479.9h1.5M53.83 479.9h1.5M55.33 473.7h1.5M56.21 473.7h1.5M57.71 473.5h1.5M58.58 473.5h1.5M60.08 476.5h1.5M60.95 476.5h1.5M62.45 483.7h1.5M63.32 483.7h1.5M64.82 482.7h1.5M65.69 482.7h1.5M67.19 498.0h1.5M68.07 498.0h1.5M69.57 491.8h1.5M70.44 491.8h1.5M71.94 484.6h1.5M72.81 484.6h1.5M74.31 486.7h1.5M75.18 486.7h1.5M76.68 495.3h1.5M77.55 495.3h1.5M79.05 497.8h1.5M79.93 497.8h1.5M81.43 497.7h1.5M82.30 497.7h1.5M83.80 495.1h1.5M84.67 495.1h1.5M86.17 497.6h1.5M87.04 497.6h1.5M88.54 492.5h1.5M89.41 492.5h1.5M90.91 489.7h1.5M91.79 489.7h1.5M93.29 482.9h1.5M94.16 482.9h1.5M95.66 478.0h1.5M96.53 478.0h1.5M98.03 479.1h1.5M98.90 479.1h1.5M100.40 470.9h1.5M101.27 470.9h1.5M102.77 447.7h1.5M103.65 447.7h1.5M105.15 428.2h1.5M106.02 428.2h1.5M107.52 415.2h1.5M108.39 415.2h1.5M109.89 426.2h1.5M110.76 426.2h1.5M112.26 438.8h1.5M113.13 438.8h1.5M114.63 430.5h1.5M115.51 430.5h1.5M117.01 432.9h1.5M117.88 432.9h1.5M119.38 424.1h1.5M120.25 424.1h1.5M121.75 428.4h1.5M122.62 428.4h1.5M124.12 425.7h1.5M124.99 425.7h1.5M126.49 411.6h1.5M127.37 411.6h1.5M128.87 425.1h1.5M129.74 425.1h1.5M131.24 414.1h1.5M132.11 414.1h1.5M133.61 403.3h1.5M134.48 403.3h1.5M135.98 397.4h1.5M136.85 397.4h1.5M138.35 389.6h1.5M139.23 389.6h1.5M140.73 381.8h1.5M141.60 381.8h1.5M143.10 396.0h1.5M143.97 396.0h1.5M145.47 411.4h1.5M146.34 411.4h1.5M147.84 402.3h1.5M148.71 402.3h1.5M150.21 418.8h1.5M151.09 418.8h1.5M152.59 426.7h1.5M153.46 426.7h1.5M154.96 406.7h1.5M155.83 406.7h1.5M157.33 391.5h1.5M158.20 391.5h1.5M159.70 381.5h1.5M160.57 381.5h1.5M162.07 374.4h1.5M162.95 374.4h1.5M164.45 371.7h1.5M165.32 371.7h1.5M166.82 374.9h1.5M167.69 374.9h1.5M169.19 397.7h1.5M170.06 397.7h1.5M171.56 402.0h1.5M172.43 402.0h1.5M173.93 410.1h1.5M174.81 410.1h1.5M176.31 417.5h1.5M177.18 417.5h1.5M178.68 395.7h1.5M179.55 395.7h1.5M181.05 374.6h1.5M181.92 374.6h1.5M183.42 370.5h1.5M184.29 370.5h1.5M185.79 353.5h1.5M186.67 353.5h1.5M188.17 351.5h1.5M189.04 351.5h1.5M190.54 340.4h1.5M191.41 340.4h1.5M192.91 327.9h1.5M193.78 327.9h1.5M195.28 312.5h1.5M196.15 312.5h1.5M197.65 297.2h1.5M198.53 297.2h1.5M200.03 278.4h1.5M200.90 278.4h1.5M202.40 273.3h1.5M203.27 273.3h1.5M204.77 249.1h1.5M205.64 249.1h1.5M207.14 259.7h1.5M208.01 259.7h1.5M209.51 280.8h1.5M210.39 280.8h1.5M211.89 274.9h1.5M212.76 274.9h1.5M214.26 285.9h1.5M215.13 285.9h1.5M216.63 305.2h1.5M217.50 305.2h1.5M219.00 312.6h1.5M219.87 312.6h1.5M221.37 289.1h1.5M222.25 289.1h1.5M223.75 279.4h1.5M224.62 279.4h1.5M226.12 282.3h1.5M226.99 282.3h1.5M228.49 274.7h1.5M229.36 274.7h1.5M230.86 269.2h1.5M231.73 269.2h1.5M233.23 280.9h1.5M234.11 280.9h1.5M235.61 280.3h1.5M236.48 280.3h1.5M237.98 296.0h1.5M238.85 296.0h1.5M240.35 295.7h1.5M241.22 295.7h1.5M242.72 299.7h1.5M243.59 299.7h1.5M245.09 293.4h1.5M245.97 293.4h1.5M247.47 277.8h1.5M248.34 277.8h1.5M249.84 269.6h1.5M250.71 269.6h1.5M252.21 250.2h1.5M253.08 250.2h1.5M254.58 230.9h1.5M255.45 230.9h1.5M256.95 228.6h1.5M257.83 228.6h1.5M259.33 246.7h1.5M260.20 246.7h1.5M261.70 255.1h1.5M262.57 255.1h1.5M264.07 256.7h1.5M264.94 256.7h1.5M266.44 248.2h1.5M267.31 248.2h1.5M268.81 234.5h1.5M269.69 234.5h1.5M271.19 237.4h1.5M272.06 237.4h1.5M273.56 249.0h1.5M274.43 249.0h1.5M275.93 246.0h1.5M276.80 246.0h1.5M278.30 241.4h1.5M279.17 241.4h1.5M280.67 257.7h1.5M281.55 257.7h1.5M283.05 275.9h1.5M283.92 275.9h1.5M285.42 285.3h1.5M286.29 285.3h1.5M287.79 288.0h1.5M288.66 288.0h1.5M290.16 308.7h1.5M291.03 308.7h1.5M292.53 319.9h1.5M293.41 319.9h1.5M294.91 304.9h1.5M295.78 304.9h1.5M297.28 291.4h1.5M298.15 291.4h1.5M299.65 287.0h1.5M300.52 287.0h1.5M302.02 287.9h1.5M302.89 287.9h1.5M304.39 305.8h1.5M305.27 305.8h1.5M306.77 316.3h1.5M307.64 316.3h1.5M309.14 309.8h1.5M310.01 309.8h1.5M311.51 322.0h1.5M312.38 322.0h1.5M313.88 333.6h1.5M314.75 333.6h1.5M316.25 320.4h1.5M317.13 320.4h1.5M318.63 324.9h1.5M319.50 324.9h1.5M321.00 318.5h1.5M321.87 318.5h1.5M323.37 307.4h1.5M324.24 307.4h1.5M325.74 315.0h1.5M326.61 315.0h1.5M328.11 321.5h1.5M328.99 321.5h1.5M330.49 321.7h1.5M331.36 321.7h1.5M332.86 324.8h1.5M333.73 324.8h1.5M335.23 322.7h1.5M336.10 322.7h1.5M337.60 313.1h1.5M338.47 313.1h1.5M339.97 277.3h1.5M340.85 277.3h1.5M342.35 253.3h1.5M343.22 253.3h1.5M344.72 254.1h1.5M345.59 254.1h1.5M347.09 264.8h1.5M347.96 264.8h1.5M349.46 276.6h1.5M350.33 276.6h1.5M351.83 274.8h1.5M352.71 274.8h1.5M354.21 268.8h1.5M355.08 268.8h1.5M356.58 245.7h1.5M357.45 245.7h1.5M358.95 247.2h1.5M359.82 247.2h1.5M361.32 244.4h1.5M362.19 244.4h1.5M363.69 248.4h1.5M364.57 248.4h1.5M366.07 254.4h1.5M366.94 254.4h1.5M368.44 258.3h1.5M369.31 258.3h1.5M370.81 247.6h1.5M371.68 247.6h1.5M373.18 234.9h1.5M374.05 234.9h1.5M375.55 225.2h1.5M376.43 225.2h1.5M377.93 213.1h1.5M378.80 213.1h1.5M380.30 207.8h1.5M381.17 207.8h1.5M382.67 215.1h1.5M383.54 215.1h1.5M385.04 209.2h1.5M385.91 209.2h1.5M387.41 210.9h1.5M388.29 210.9h1.5M389.79 209.2h1.5M390.66 209.2h1.5M392.16 217.8h1.5M393.03 217.8h1.5M394.53 219.4h1.5M395.40 219.4h1.5M396.90 207.4h1.5M397.77 207.4h1.5M399.27 204.2h1.5M400.15 204.2h1.5M401.65 199.6h1.5M402.52 199.6h1.5M404.02 198.0h1.5M404.89 198.0h1.5M406.39 197.9h1.5M407.26 197.9h1.5M408.76 199.4h1.5M409.63 199.4h1.5M411.13 191.5h1.5M412.01 191.5h1.5M413.51 180.1h1.5M414.38 180.1h1.5M415.88 164.6h1.5M416.75 164.6h1.5M418.25 170.1h1.5M419.12 170.1h1.5M420.62 187.2h1.5M421.49 187.2h1.5M422.99 182.8h1.5M423.87 182.8h1.5M425.37 175.1h1.5M426.24 175.1h1.5M427.74 172.1h1.5M428.61 172.1h1.5M430.11 165.3h1.5M430.98 165.3h1.5M432.48 156.1h1.5M433.35 156.1h1.5M434.85 136.4h1.5M435.73 143.8h1.5M437.23 152.4h1.5M438.10 152.4h1.5M439.60 162.8h1.5M440.47 162.8h1.5M441.97 180.8h1.5M442.84 180.8h1.5M444.34 194.6h1.5M445.21 194.6h1.5M446.71 203.9h1.5M447.59 203.9h1.5M449.09 206.6h1.5M449.96 206.6h1.5M451.46 203.3h1.5M452.33 203.3h1.5M453.83 189.5h1.5M454.70 189.5h1.5M456.20 175.8h1.5M457.07 175.8h1.5M458.57 190.7h1.5M459.45 190.7h1.5M460.95 194.2h1.5M461.82 194.2h1.5M463.32 193.5h1.5M464.19 193.5h1.5M465.69 207.7h1.5M466.56 207.7h1.5M468.06 201.4h1.5M468.93 201.4h1.5M470.43 205.7h1.5M471.31 205.7h1.5M472.81 202.0h1.5M473.68 202.0h1.5M475.18 192.8h1.5M476.05 192.8h1.5M477.55 184.8h1.5M478.42 184.8h1.5M479.92 205.2h1.5M480.79 205.2h1.5M482.29 247.5h1.5M483.17 247.5h1.5M484.67 274.9h1.5M485.54 274.9h1.5M487.04 298.1h1.5M487.91 298.1h1.5M489.41 289.9h1.5M490.28 289.9h1.5M491.78 327.7h1.5M492.65 327.7h1.5M494.15 369.5h1.5M495.03 369.5h1.5M496.53 422.9h1.5M497.40 422.9h1.5M498.90 450.1h1.5M499.77 450.1h1.5M501.27 456.9h1.5M502.14 456.9h1.5M503.64 444.7h1.5M504.51 444.7h1.5M506.01 467.3h1.5M506.89 467.3h1.5M508.39 476.1h1.5M509.26 476.1h1.5M510.76 493.3h1.5M511.63 493.3h1.5M513.13 482.4h1.5M514.00 482.4h1.5M515.50 498.2h1.5M516.37 498.2h1.5M517.87 499.8h1.5M518.75 499.8h1.5M520.25 477.6h1.5M521.12 477.6h1.5M522.62 466.1h1.5M523.49 466.1h1.5M524.99 470.6h1.5M525.86 470.6h1.5M527.36 443.3h1.5M528.23 443.3h1.5M529.73 403.1h1.5M530.61 403.1h1.5M532.11 382.3h1.5M532.98 382.3h1.5M534.48 376.7h1.5M535.35 376.7h1.5M536.85 383.5h1.5M537.72 383.5h1.5M539.22 381.5h1.5M540.09 381.5h1.5M541.59 362.2h1.5M542.47 362.2h1.5M543.97 374.3h1.5M544.84 374.3h1.5M546.34 381.8h1.5M547.21 381.8h1.5M548.71 374.8h1.5M549.58 374.8h1.5M551.08 391.2h1.5M551.95 391.2h1.5M553.45 407.3h1.5M554.33 407.3h1.5M555.83 381.3h1.5M556.70 381.3h1.5M558.20 375.5h1.5M559.07 375.5h1.5M560.57 371.4h1.5M561.44 371.4h1.5M562.94 381.9h1.5M563.81 381.9h1.5M565.31 390.2h1.5M566.19 390.2h1.5M567.69 393.5h1.5M568.56 393.5h1.5M570.06 389.6h1.5M570.93 389.6h1.5M572.43 402.5h1.5M573.30 402.5h1.5M574.80 417.4h1.5M575.67 417.4h1.5M577.17 443.8h1.5M578.05 443.8h1.5M579.55 450.3h1.5M580.42 450.3h1.5M581.92 448.1h1.5M582.79 448.1h1.5M584.29 436.8h1.5M585.16 436.8h1.5M586.66 444.4h1.5M587.53 444.4h1.5M589.03 467.4h1.5M589.91 467.4h1.5M591.41 481.2h1.5M592.28 481.2h1.5M593.78 473.3h1.5M594.65 473.3h1.5M596.15 465.3h1.5M597.02 465.3h1.5M598.52 450.8h1.5M599.39 450.8h1.5M600.89 436.1h1.5M601.77 436.1h1.5M603.27 418.5h1.5M604.14 418.5h1.5M605.64 421.7h1.5M606.51 421.7h1.5M608.01 430.8h1.5M608.88 430.8h1.5M610.38 426.4h1.5M611.25 426.4h1.5M612.75 413.7h1.5M613.63 413.7h1.5M615.13 407.6h1.5M616.00 407.6h1.5M617.50 404.2h1.5M618.37 404.2h1.5M619.87 400.0h1.5M620.74 400.0h1.5M622.24 408.0h1.5M623.11 408.0h1.5M624.61 414.9h1.5M625.49 414.9h1.5M626.99 425.8h1.5M627.86 425.8h1.5M629.36 424.7h1.5M630.23 424.7h1.5M631.73 411.1h1.5M632.60 411.1h1.5M634.10 398.6h1.5M634.97 398.6h1.5M636.47 395.4h1.5M637.35 395.4h1.5M638.85 392.3h1.5M639.72 392.3h1.5M641.22 394.0h1.5M642.09 394.0h1.5M643.59 391.4h1.5M644.46 391.4h1.5M645.96 386.1h1.5M646.83 386.1h1.5M648.33 375.2h1.5M649.21 375.2h1.5M650.71 381.5h1.5M651.58 381.5h1.5M653.08 388.6h1.5M653.95 388.6h1.5M655.45 385.5h1.5M656.32 385.5h1.5M657.82 393.5h1.5M658.69 393.5h1.5M660.19 401.4h1.5M661.07 401.4h1.5M662.57 395.4h1.5M663.44 395.4h1.5M664.94 388.3h1.5M665.81 388.3h1.5M667.31 378.3h1.5M668.18 378.3h1.5M669.68 385.3h1.5M670.55 385.3h1.5M672.05 406.2h1.5M672.93 406.2h1.5M674.43 424.5h1.5M675.30 424.5h1.5M676.80 425.5h1.5M677.67 425.5h1.5M679.17 406.1h1.5M680.04 406.1h1.5M681.54 404.5h1.5M682.41 404.5h1.5M683.91 414.0h1.5M684.79 414.0h1.5M686.29 420.2h1.5M687.16 420.2h1.5M688.66 425.1h1.5M689.53 425.1h1.5M691.03 429.5h1.5M691.90 429.5h1.5M693.40 429.2h1.5M694.27 429.2h1.5M695.77 418.5h1.5M696.65 418.5h1.5M698.15 410.4h1.5M699.02 410.4h1.5M700.52 410.2h1.5M701.39 410.2h1.5M702.89 414.5h1.5M703.76 414.5h1.5M705.26 409.4h1.5M706.13 409.4h1.5M707.63 404.2h1.5M708.51 404.2h1.5M710.01 396.8h1.5M710.88 396.8h1.5M712.38 398.0h1.5M713.25 398.0h1.5M714.75 417.2h1.5M715.62 417.2h1.5M717.12 430.1h1.5M717.99 430.1h1.5M719.49 421.6h1.5M720.37 421.6h1.5M721.87 425.3h1.5M722.74 425.3h1.5M724.24 426.0h1.5M725.11 426.0h1.5M726.61 421.8h1.5M727.48 421.8h1.5M728.98 415.0h1.5M729.85 415.0h1.5M731.35 407.7h1.5M732.23 407.7h1.5M733.73 394.7h1.5M734.60 394.7h1.5M736.10 393.5h1.5M736.97 393.5h1.5M738.47 397.8h1.5M739.34 397.8h1.5M740.84 398.2h1.5M741.71 398.2h1.5M743.21 403.2h1.5M744.09 403.2h1.5M745.59 404.8h1.5M746.46 404.8h1.5M747.96 400.1h1.5M748.83 400.1h1.5M750.33 395.7h1.5M751.20 395.7h1.5M752.70 393.1h1.5M753.57 393.1h1.5M755.07 403.6h1.5M755.95 403.6h1.5M757.45 414.7h1.5M758.32 414.7h1.5M759.82 425.5h1.5M760.69 425.5h1.5M762.19 447.2h1.5M763.06 447.2h1.5M764.56 455.0h1.5M765.43 455.0h1.5M766.93 446.3h1.5M767.81 446.3h1.5M769.31 439.0h1.5M770.18 439.0h1.5M771.68 435.2h1.5M772.55 435.2h1.5M774.05 435.7h1.5M774.92 435.7h1.5M776.42 444.8h1.5M777.29 444.8h1.5M778.79 436.1h1.5M779.67 436.1h1.5M781.17 428.5h1.5M782.04 428.5h1.5M783.54 447.9h1.5M784.41 447.9h1.5M785.91 449.4h1.5M786.78 449.4h1.5M788.28 441.4h1.5M789.15 441.4h1.5M790.65 427.6h1.5M791.53 427.6h1.5M793.03 421.8h1.5M793.90 421.8h1.5M795.40 410.5h1.5M796.27 410.5h1.5M797.77 395.1h1.5M798.64 395.1h1.5M800.14 400.0h1.5M801.01 400.0h1.5M802.51 395.9h1.5M803.39 395.9h1.5M804.89 402.8h1.5M805.76 402.8h1.5M807.26 396.9h1.5M808.13 396.9h1.5M809.63 387.0h1.5M810.50 387.0h1.5M812.00 379.2h1.5M812.87 379.2h1.5M814.37 376.1h1.5M815.25 376.1h1.5M816.75 374.9h1.5M817.62 374.9h1.5M819.12 375.8h1.5M819.99 375.8h1.5M821.49 369.8h1.5M822.36 369.8h1.5M823.86 365.8h1.5M824.73 365.8h1.5M826.23 370.4h1.5M827.11 370.4h1.5M828.61 370.5h1.5M829.48 370.5h1.5M830.98 361.9h1.5M831.85 361.9h1.5M833.35 358.9h1.5M834.22 358.9h1.5M835.72 356.4h1.5M836.59 356.4h1.5M838.09 358.1h1.5M838.97 358.1h1.5M840.47 355.9h1.5M841.34 355.9h1.5M842.84 348.5h1.5M843.71 348.5h1.5M845.21 342.4h1.5M846.08 342.4h1.5M847.58 341.5h1.5M848.45 341.5h1.5M849.95 354.2h1.5M850.83 354.2h1.5M852.33 364.3h1.5M853.20 364.3h1.5M854.70 373.3h1.5M855.57 373.3h1.5M857.07 387.9h1.5M857.94 387.9h1.5M859.44 390.4h1.5M860.31 390.4h1.5M861.81 396.7h1.5M862.69 396.7h1.5M864.19 400.2h1.5M865.06 400.2h1.5M866.56 410.6h1.5M867.43 410.6h1.5M868.93 417.7h1.5M869.80 417.7h1.5M871.30 420.3h1.5M872.17 420.3h1.5M873.67 420.7h1.5M874.55 420.7h1.5M876.05 432.1h1.5M876.92 432.1h1.5M878.42 445.7h1.5M879.29 445.7h1.5M880.79 449.2h1.5M881.66 449.2h1.5M883.16 435.9h1.5M884.03 435.9h1.5M885.53 431.8h1.5M886.41 431.8h1.5M887.91 461.1h1.5M888.78 461.1h1.5M890.28 464.4h1.5M891.15 464.4h1.5M892.65 467.2h1.5M893.52 467.2h1.5M895.02 446.7h1.5M895.89 446.7h1.5M897.39 435.0h1.5M898.27 435.0h1.5M899.77 430.4h1.5M900.64 430.4h1.5M902.14 434.9h1.5M903.01 434.9h1.5M904.51 418.5h1.5M905.38 418.5h1.5M906.88 424.2h1.5M907.75 424.2h1.5M909.25 427.4h1.5M910.13 427.4h1.5M911.63 423.1h1.5M912.50 423.1h1.5M914.00 418.8h1.5M914.87 418.8h1.5M916.37 419.8h1.5M917.24 422.0h1.5M918.74 432.8h1.5M919.61 432.8h1.5M921.11 437.2h1.5M921.99 437.2h1.5M923.49 438.0h1.5M924.36 438.0h1.5M925.86 436.4h1.5M926.73 436.4h1.5M928.23 443.7h1.5M929.10 443.7h1.5M930.60 450.6h1.5M931.47 450.6h1.5M932.97 452.4h1.5M933.85 452.4h1.5M935.35 461.2h1.5M936.22 461.2h1.5M937.72 468.1h1.5M938.59 468.1h1.5M940.09 491.5h1.5M940.96 491.5h1.5M942.46 490.8h1.5M943.33 490.8h1.5M944.83 491.4h1.5M945.71 491.4h1.5M947.21 507.9h1.5M948.08 507.9h1.5M949.58 494.1h1.5M950.45 494.1h1.5M951.95 494.0h1.5M952.82 494.0h1.5M954.32 498.1h1.5M955.19 498.1h1.5M956.69 485.5h1.5M957.57 485.5h1.5M959.07 479.3h1.5M959.94 479.3h1.5M961.44 480.8h1.5M962.31 480.8h1.5M963.81 483.5h1.5M964.68 483.5h1.5M966.18 505.9h1.5M967.05 505.9h1.5M968.55 552.8h1.5M969.43 552.8h1.5M970.93 551.7h1.5M971.80 551.7h1.5M973.30 554.1h1.5M974.17 554.1h1.5M975.67 561.6h1.5M976.54 561.6h1.5M978.04 554.2h1.5M978.91 554.2h1.5M980.41 547.2h1.5M981.29 547.2h1.5M982.79 561.4h1.5M983.66 561.4h1.5M985.16 604.0h1.5M986.03 604.0h1.5M987.53 602.2h1.5M988.40 602.2h1.5M989.90 592.5h1.5M990.77 592.5h1.5M992.27 588.5h1.5M993.15 588.5h1.5M994.65 586.4h1.5M995.52 586.4h1.5M997.02 589.6h1.5M997.89 589.6h1.5M999.39 600.2h1.5M1000.26 600.2h1.5M1001.76 603.6h1.5M1002.63 603.6h1.5M1004.13 588.7h1.5M1005.01 588.7h1.5M1006.51 589.1h1.5M1007.38 589.1h1.5M1008.88 593.6h1.5M1009.75 593.6h1.5M1011.25 601.5h1.5M1012.12 601.5h1.5M1013.62 591.2h1.5M1014.49 591.2h1.5M1015.99 588.5h1.5M1016.87 588.5h1.5M1018.37 569.3h1.5M1019.24 569.3h1.5M1020.74 567.6h1.5M1021.61 567.6h1.5M1023.11 566.6h1.5M1023.98 566.6h1.5M1025.48 573.8h1.5M1026.35 573.8h1.5M1027.85 577.9h1.5M1028.73 577.9h1.5M1030.23 568.7h1.5M1031.10 568.7h1.5M1032.60 562.7h1.5M1033.47 562.7h1.5M1034.97 557.7h1.5M1035.84 557.7h1.5M1037.34 565.1h1.5M1038.21 565.1h1.5M1039.71 567.2h1.5M1040.59 567.2h1.5M1042.09 548.0h1.5M1042.96 548.0h1.5M1044.46 540.5h1.5M1045.33 540.5h1.5M1046.83 550.0h1.5M1047.70 550.0h1.5M1049.20 553.0h1.5M1050.07 553.0h1.5M1051.57 555.9h1.5M1052.45 555.9h1.5M1053.95 548.2h1.5M1054.82 548.2h1.5M1056.32 540.7h1.5M1057.19 540.7h1.5M1058.69 540.9h1.5M1059.56 540.9h1.5M1061.06 535.1h1.5M1061.93 535.1h1.5M1063.43 520.7h1.5M1064.31 520.7h1.5M1065.81 508.4h1.5M1066.68 508.4h1.5M1068.18 510.0h1.5M1069.05 510.0h1.5M1070.55 515.3h1.5M1071.42 515.3h1.5M1072.92 508.8h1.5M1073.79 508.8h1.5M1075.29 504.6h1.5M1076.17 504.6h1.5M1077.67 504.1h1.5M1078.54 504.1h1.5M1080.04 510.6h1.5M1080.91 510.6h1.5M1082.41 532.7h1.5M1083.28 532.7h1.5M1084.78 542.2h1.5M1085.65 542.2h1.5M1087.15 542.4h1.5M1088.03 542.4h1.5M1089.53 548.4h1.5M1090.40 548.4h1.5M1091.90 551.3h1.5M1092.77 551.3h1.5M1094.27 555.1h1.5M1095.14 555.1h1.5M1096.64 562.9h1.5M1097.51 562.9h1.5M1099.01 570.2h1.5M1099.89 570.2h1.5M1101.39 565.2h1.5M1102.26 565.2h1.5M1103.76 559.7h1.5M1104.63 559.7h1.5M1106.13 555.5h1.5M1107.00 555.5h1.5M1108.50 558.2h1.5M1109.37 558.2h1.5M1110.87 557.5h1.5M1111.75 557.5h1.5M1113.25 568.3h1.5M1114.12 568.3h1.5M1115.62 569.7h1.5M1116.49 569.7h1.5M1117.99 576.1h1.5M1118.86 576.1h1.5M1120.36 580.8h1.5M1121.23 580.8h1.5M1122.73 583.4h1.5M1123.61 583.4h1.5M1125.11 570.6h1.5M1125.98 570.6h1.5M1127.48 557.5h1.5M1128.35 557.5h1.5M1129.85 558.8h1.5M1130.72 558.8h1.5M1132.22 554.2h1.5M1133.09 554.2h1.5M1134.59 549.7h1.5M1135.47 549.7h1.5M1136.97 555.4h1.5M1137.84 555.4h1.5M1139.34 557.1h1.5M1140.21 557.1h1.5M1141.71 559.5h1.5M1142.58 559.5h1.5M1144.08 564.6h1.5M1144.95 564.6h1.5M1146.45 575.7h1.5M1147.33 575.7h1.5M1148.83 582.3h1.5M1149.70 582.3h1.5M1151.20 582.7h1.5M1152.07 582.7h1.5M1153.57 586.1h1.5M1154.44 586.1h1.5M1155.94 592.7h1.5M1156.81 592.7h1.5M1158.31 601.1h1.5M1159.19 601.1h1.5M1160.69 607.5h1.5M1161.56 607.5h1.5M1163.06 604.9h1.5M1163.93 604.9h1.5M1165.43 596.7h1.5M1166.30 596.7h1.5M1167.80 595.0h1.5M1168.67 595.0h1.5M1170.17 591.6h1.5M1171.05 591.6h1.5M1172.55 567.9h1.5M1173.42 567.9h1.5M1174.92 568.6h1.5M1175.79 568.6h1.5M1177.29 569.2h1.5M1178.16 569.2h1.5M1179.66 559.0h1.5M1180.53 559.0h1.5M1182.03 552.1h1.5M1182.91 552.1h1.5M1184.41 555.6h1.5M1185.28 555.6h1.5M1186.78 559.0h1.5M1187.65 559.0h1.5M1189.15 560.3h1.5M1190.02 560.3h1.5M1191.52 561.8h1.5M1192.39 561.8h1.5M1193.89 566.4h1.5M1194.77 566.4h1.5M1196.27 572.7h1.5M1197.14 572.7h1.5M1198.64 598.9h1.5M1199.51 598.9h1.5M1201.01 594.7h1.5M1201.88 594.7h1.5M1203.38 591.1h1.5M1204.25 591.1h1.5M1205.75 599.6h1.5M1206.63 599.6h1.5M1208.13 604.0h1.5M1209.00 604.0h1.5M1210.50 588.8h1.5M1211.37 588.8h1.5M1212.87 584.8h1.5M1213.74 584.8h1.5M1215.24 592.8h1.5M1216.11 592.8h1.5M1217.61 580.1h1.5M1218.49 580.1h1.5M1219.99 562.1h1.5M1220.86 562.1h1.5M1222.36 557.7h1.5M1223.23 557.7h1.5M1224.73 547.7h1.5M1225.60 547.7h1.5M1227.10 559.2h1.5M1227.97 559.2h1.5M1229.47 568.0h1.5M1230.35 568.0h1.5M1231.85 562.5h1.5M1232.72 562.5h1.5M1234.22 561.8h1.5M1235.09 561.8h1.5M1236.59 557.0h1.5M1237.46 557.0h1.5M1238.96 551.1h1.5M1239.83 551.1h1.5M1241.33 544.0h1.5" stroke="#161618" stroke-width="1.2" fill="none"/>
<path d="M435.6 0V751M1198.45 0V751" stroke="#111" stroke-width="1.25" fill="none"/>
<path d="M434.7 124.7V152M1197.4 553V648.5" stroke="#111" stroke-width="1.3" fill="none"/>
<path d="M466.1 132.4L1178.5 500.6" stroke="#2f27c4" stroke-width="1.5" stroke-dasharray="5.5 5" fill="none"/>
<path d="M1172.5 501.8L1178.5 500.6L1175.5 494.2" stroke="#3a34c8" stroke-width="1.1" fill="none"/>
<path d="M303.9 102.6L400.9 113.8L399.3 103.7L426.5 128.7L390.8 141.5L396.1 133.5Z" fill="#fbd684" stroke="#f6c766" stroke-width="1.2" stroke-linejoin="round" opacity="0.92"/>
<path d="M3 751H1498" stroke="#6c6c75" stroke-width="2" fill="none"/>
<path d="M1438 0V777.5" stroke="#6c6c75" stroke-width="2" fill="none"/>
<path d="M75.0 751V754.8M198.3 751V754.8M321.7 751V754.8M445.0 751V754.8M568.4 751V754.8M691.8 751V754.8M815.1 751V754.8M938.4 751V754.8M1061.8 751V754.8M1185.1 751V754.8M1308.5 751V754.8M1431.8 751V754.8M1438 25.9H1442M1438 79.7H1442M1438 133.5H1442M1438 187.2H1442M1438 241.0H1442M1438 294.7H1442M1438 348.5H1442M1438 402.3H1442M1438 456.0H1442M1438 509.8H1442M1438 617.3H1442M1438 671.1H1442M1438 724.8H1442" stroke="#55555e" stroke-width="1.1" fill="none"/>
</svg>
<div class="abs" style="left:17px;top:7.5px;width:16px;height:16px;border-radius:50%;background:#d9efec"></div>
<div class="abs" style="left:21px;top:11.5px;width:8px;height:8px;border-radius:50%;background:#149787"></div>
<div class="abs legend" style="left:49.5px;top:9.5px"><span>O</span><b>1.32890</b> <span style="margin-left:2.5px">H</span><b>1.33980</b> <span style="margin-left:2.5px">L</span><b>1.32637</b> <span style="margin-left:2.5px">C</span><b>1.33703</b></div>
<div class="abs legend" style="left:11.5px;top:31.5px;font-size:12.3px">EMA 200 close 0 <b style="margin-left:5px;-webkit-text-stroke:0.3px #1c1c1c">1.31344</b></div>
<div class="abs legend" style="left:11.5px;top:54.5px;font-size:12.3px">EMA 100 close 0 <b style="margin-left:5px;color:#4330a8;-webkit-text-stroke:0.15px #4330a8">1.28621</b></div>
<div class="abs" style="left:10.8px;top:73.6px;width:26px;height:18px;border:1px solid #dcdce2;border-radius:3px;background:#fff"><svg width="26" height="18" viewBox="0 0 26 18"><path d="M9.5 11.5L13 8L16.5 11.5" stroke="#222" stroke-width="1.5" fill="none"/></svg></div>
<div class="red" style="left:183.5px;top:91px">12-11-2007</div>
<div class="red" style="left:757.5px;top:252px;letter-spacing:0.25px">Giảm liên tục 13 năm</div>
<div class="red" style="left:1219px;top:622px;letter-spacing:0.45px">23-03-2020</div>
<div class="pl" style="top:18.9px">2.30000</div><div class="pl" style="top:72.7px">2.20000</div><div class="pl" style="top:126.5px">2.10000</div><div class="pl" style="top:180.2px">2.00000</div><div class="pl" style="top:234.0px">1.90000</div><div class="pl" style="top:287.7px">1.80000</div><div class="pl" style="top:341.5px">1.70000</div><div class="pl" style="top:395.3px">1.60000</div><div class="pl" style="top:449.0px">1.50000</div><div class="pl" style="top:502.8px">1.40000</div><div class="pl" style="top:610.3px">1.20000</div><div class="pl" style="top:664.1px">1.10000</div><div class="pl" style="top:717.8px">1.00000</div>
<div class="abs" style="left:1451px;top:6px;width:32px;height:16.5px;border:1px solid #dcdce2;border-radius:4px;background:#fff;font-size:11.5px;line-height:17px;text-align:center;color:#444">USD</div>
<div class="abs" style="left:1386px;top:535.5px;width:110px;height:17px;background:#fff"></div>
<div class="abs" style="left:1391.5px;top:537px;font-size:11.2px;line-height:14px;color:#111;-webkit-text-stroke:0.3px #111;transform:scaleX(0.835);transform-origin:0 0">GBPUSD</div>
<div class="abs" style="left:1438px;top:544px;width:4px;height:1.3px;background:#222"></div>
<div class="abs" style="left:1446.5px;top:537px;font-size:11.2px;line-height:14px;color:#111;-webkit-text-stroke:0.3px #111">1.33703</div>
<div class="abs" style="left:1443px;top:555px;font-size:11.2px;line-height:14px;color:#111;-webkit-text-stroke:0.3px #111;letter-spacing:0.1px">13:55:48</div>
<div class="box" style="top:570.5px;background:#000"><i style="position:absolute;left:0;top:8px;width:3.5px;height:1.3px;background:#fff"></i><span>1.31344</span></div>
<div class="box" style="top:587.5px;background:#4a2bb3"><i style="position:absolute;left:0;top:8px;width:3.5px;height:1.3px;background:#fff"></i><span>1.28621</span></div>
<div class="abs" style="left:1439px;top:752px;width:58px;height:25px;background:#fff"></div>
<div style="position:absolute;left:0;top:752px;width:1437px;height:25px;overflow:hidden"><div class="tl" style="left:55.0px">2002</div><div class="tl" style="left:178.3px">2004</div><div class="tl" style="left:301.7px">2006</div><div class="tl" style="left:425.0px">2008</div><div class="tl" style="left:548.4px">2010</div><div class="tl" style="left:671.8px">2012</div><div class="tl" style="left:795.1px">2014</div><div class="tl" style="left:918.4px">2016</div><div class="tl" style="left:1041.8px">2018</div><div class="tl" style="left:1165.1px">2020</div><div class="tl" style="left:1288.5px">2022</div><div class="tl" style="left:1411.8px">2024</div></div>
<div class="dlab" style="left:390.7px;width:90.3px">12 Tháng 11 '07</div>
<div class="dlab" style="left:1156.7px;width:84.3px">23 Tháng 3 '20</div>
<svg class="abs" style="left:1458px;top:755.5px" width="20" height="20" viewBox="0 0 20 20"><circle cx="10" cy="10" r="4.6" stroke="#222" stroke-width="1.4" fill="none"/><path d="M10 2.8V4.6M10 15.4V17.2M2.8 10H4.6M15.4 10H17.2M4.9 4.9L6.2 6.2M13.8 13.8L15.1 15.1M4.9 15.1L6.2 13.8M13.8 6.2L15.1 4.9" stroke="#222" stroke-width="1.8" fill="none"/></svg>
<div class="abs" style="left:3px;top:777.5px;width:1494px;height:1px;background:#e6e6ee"></div>
<div class="tb" style="left:19px">1 Ngày</div>
<div class="tb" style="left:73.7px">5 Ngày</div>
<div class="tb" style="left:129.3px">1 Tháng</div>
<div class="tb" style="left:190.7px">3 Tháng</div>
<div class="tb" style="left:252.7px">6 tháng</div>
<div class="tb" style="left:310.3px">YTD</div>
<div class="tb" style="left:351px">1 Năm</div>
<div class="tb" style="left:402.7px">5 Năm</div>
<div class="tb" style="left:455.3px">Tất cả</div>
<div class="abs" style="left:507px;top:784.500px;width:1px;height:23px;background:#e2e2ea"></div>
<svg class="abs" style="left:520px;top:785px" width="24" height="22" viewBox="0 0 24 22"><path d="M4.800 9V7A2 2 0 0 1 6.800 5H17.500A2 2 0 0 1 19.500 7V15.600A2 2 0 0 1 17.500 17.600H12.200M4.800 8.500H19.500M8.500 3.800V6.200M15.500 3.800V6.200M3.400 14.400H10.400M7.300 11.300L10.600 14.400L7.300 17.600" stroke="#222" stroke-width="1.25" fill="none"/></svg>
<div class="tb" style="left:1248px">10:04:11 (UTC+2)</div>
<div class="abs" style="left:1368px;top:786px;width:1px;height:20px;background:#e2e2ea"></div>
<div class="tb" style="left:1385px">%</div>
<div class="tb" style="left:1411px">log</div>
<div class="tb" style="left:1442px">tự động</div>
</body></html>
